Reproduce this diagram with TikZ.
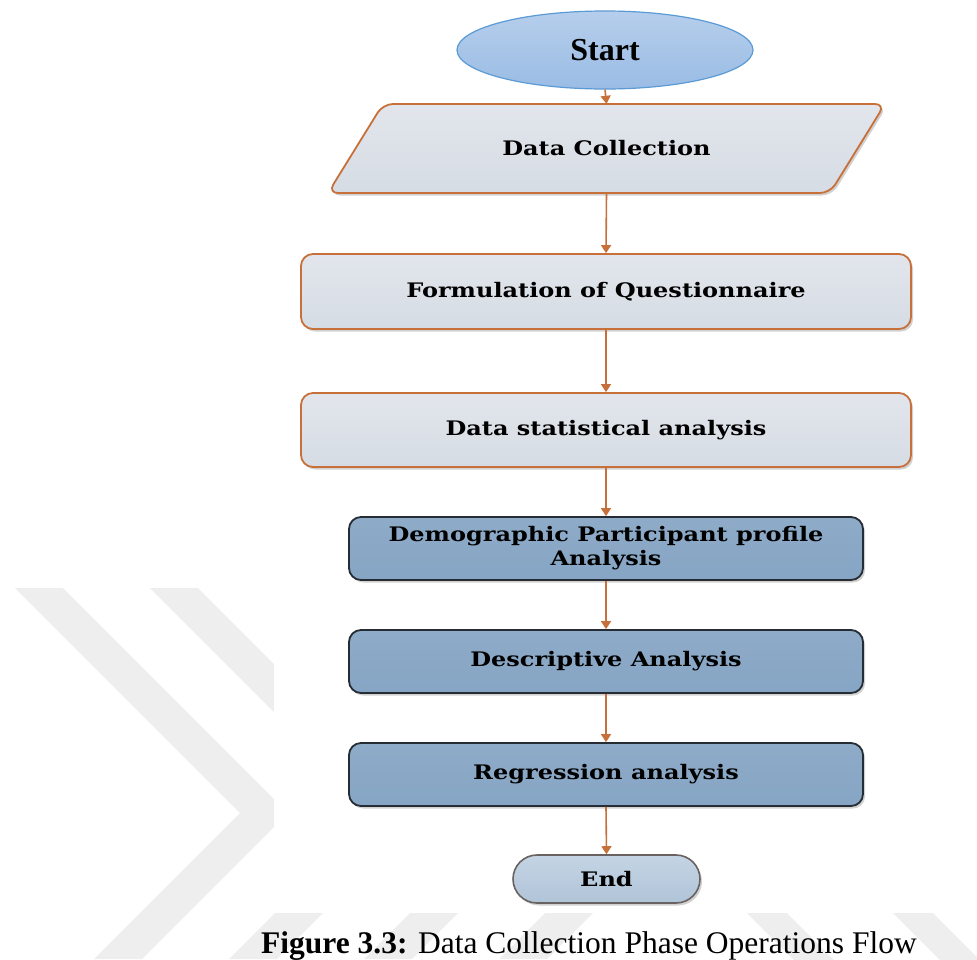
\documentclass[tikz,border=0pt]{standalone}
\usepackage{fontspec}
\setmainfont{Liberation Serif}
\newfontfamily\boxfont[FakeStretch=1.2]{DejaVu Serif}
\usetikzlibrary{shapes.geometric,arrows.meta,shadows}

\definecolor{flowline}{RGB}{200,112,58}
\definecolor{lighttop}{RGB}{226,230,236}
\definecolor{lightbot}{RGB}{214,220,228}
\definecolor{steeltop}{RGB}{142,171,200}
\definecolor{steelbot}{RGB}{134,165,196}
\definecolor{steeledge}{RGB}{38,44,52}
\definecolor{starttop}{RGB}{182,206,236}
\definecolor{startbot}{RGB}{154,188,228}
\definecolor{startedge}{RGB}{91,155,213}
\definecolor{endtop}{RGB}{196,212,228}
\definecolor{endbot}{RGB}{176,196,216}
\definecolor{endedge}{RGB}{105,98,96}
\definecolor{markgray}{RGB}{238,238,238}

\tikzset{
  softshadow/.style={drop shadow={fill=black, opacity=0.18, shadow xshift=2pt, shadow yshift=-2.5pt}},
  boxtext/.style={font=\boxfont\bfseries\fontsize{20}{24}\selectfont, align=center, inner sep=0pt},
  lightskin/.style={draw=flowline, line width=1.8pt, top color=lighttop, bottom color=lightbot, softshadow},
  lightstep/.style={boxtext, lightskin, rounded corners=12pt},
  darkstep/.style={boxtext, draw=steeledge, line width=1.8pt, rounded corners=12pt,
    top color=steeltop, bottom color=steelbot, softshadow,
    minimum width=514pt, minimum height=63pt},
  flow/.style={draw=flowline, line width=1.6pt, -{Triangle[width=10pt,length=8pt]}},
  stripe/.style={fill=markgray, draw=none}
}

\begin{document}
\begin{tikzpicture}[x=1pt,y=-1pt]
\useasboundingbox (0,0) rectangle (977,959);
\clip (0,0) rectangle (977,959);

% faint chevron watermark in the page background
\foreach \nx in {240,375,510,645}{
  \fill[stripe] (\nx-225,588) -- (\nx-177,588) -- (\nx+48,813) -- (\nx-98,959)
    -- (\nx-146,959) -- (\nx,813) -- cycle;
}
\fill[stripe] (734,900) -- (774,900) -- (834,960) -- (794,960) -- cycle;
\fill[stripe] (880,900) -- (920,900) -- (980,960) -- (940,960) -- cycle;

% white panel behind the flowchart
\fill[white] (274,0) rectangle (977,913);

% flowchart nodes
\node[ellipse, draw=startedge, line width=1.2pt, top color=starttop, bottom color=startbot,
      minimum width=296pt, minimum height=78pt, inner sep=0pt,
      font=\bfseries\fontsize{32}{36}\selectfont] (start) at (605,50) {Start};

% slanted input box for the data collection step
\path[lightskin, rounded corners=10pt] (328,193) -- (383,104) -- (885,104) -- (830,193) -- cycle;
\node[boxtext, minimum width=502pt, minimum height=89pt] (collect) at (606.5,148.5) {Data Collection};

\node[lightstep, minimum width=610pt, minimum height=75pt] (quest) at (606,291.5)
      {Formulation of Questionnaire};

\node[lightstep, minimum width=610pt, minimum height=74pt] (stats) at (606,430)
      {Data statistical analysis};

\node[darkstep] (demo) at (606,548.5) {Demographic Participant profile\\Analysis};
\node[darkstep] (desc) at (606,661.5) {Descriptive Analysis};
\node[darkstep] (regr) at (606,774.5) {Regression analysis};

\node[boxtext, draw=endedge, line width=1.6pt, rounded corners=24pt,
      top color=endtop, bottom color=endbot, softshadow,
      minimum width=187pt, minimum height=48pt] (end) at (606.5,879) {End};

% connectors
\draw[flow] (start.south) -- (collect.north);
\draw[flow] (collect.south) -- (quest.north);
\draw[flow] (quest.south) -- (stats.north);
\draw[flow] (stats.south) -- (demo.north);
\draw[flow] (demo.south) -- (desc.north);
\draw[flow] (desc.south) -- (regr.north);
\draw[flow] (regr.south) -- (end.north);

% caption
\node[anchor=base west, inner sep=0pt, font=\fontsize{31.5}{38}\selectfont] (caption) at (261,953)
      {\textbf{Figure 3.3:} Data Collection Phase Operations Flow};
\end{tikzpicture}
\end{document}
